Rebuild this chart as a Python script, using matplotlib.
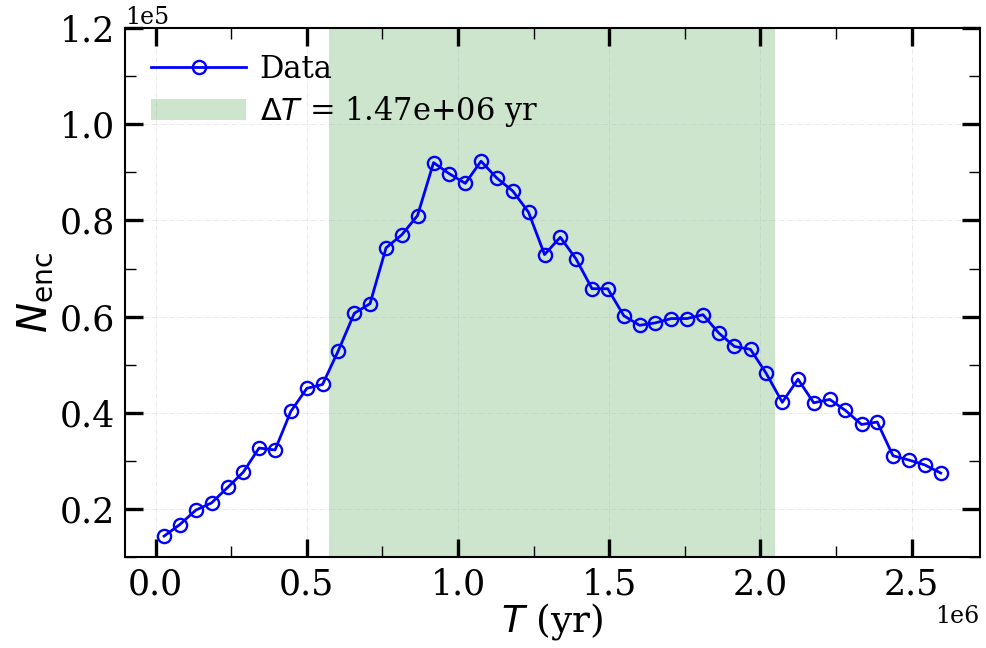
import numpy as np
from matplotlib import pyplot as plt
from matplotlib.ticker import AutoMinorLocator

# time bins (yr) and encounter counts
t_myr = [
    0.028, 0.080, 0.133, 0.185, 0.238, 0.290, 0.342, 0.395, 0.447, 0.500,
    0.552, 0.604, 0.657, 0.709, 0.762, 0.814, 0.866, 0.919, 0.971, 1.024,
    1.076, 1.128, 1.181, 1.233, 1.286, 1.338, 1.390, 1.443, 1.495, 1.548,
    1.600, 1.652, 1.705, 1.757, 1.810, 1.862, 1.914, 1.967, 2.019, 2.072,
    2.124, 2.176, 2.229, 2.281, 2.334, 2.386, 2.438, 2.491, 2.543, 2.596,
]
n_enc_1e5 = [
    0.144, 0.168, 0.198, 0.213, 0.245, 0.277, 0.327, 0.323, 0.403, 0.451,
    0.459, 0.529, 0.607, 0.627, 0.743, 0.770, 0.810, 0.920, 0.897, 0.877,
    0.923, 0.888, 0.861, 0.817, 0.729, 0.765, 0.720, 0.658, 0.658, 0.602,
    0.582, 0.587, 0.596, 0.596, 0.604, 0.566, 0.538, 0.532, 0.482, 0.422,
    0.470, 0.421, 0.428, 0.405, 0.376, 0.381, 0.311, 0.302, 0.292, 0.275,
]
span_start = 0.575e6
span_end = 2.047e6

t = np.array(t_myr) * 1e6
n_enc = np.array(n_enc_1e5) * 1e5

plt.rcParams["font.family"] = "DejaVu Serif"
plt.rcParams["mathtext.fontset"] = "dejavusans"

fig, ax = plt.subplots(figsize=(9.86, 6.48), dpi=100)
fig.patch.set_facecolor("white")
fig.subplots_adjust(left=0.127, right=0.9935, top=0.957, bottom=0.14)

ax.plot(t, n_enc, color="blue", linewidth=2, marker="o", markersize=9.5,
        markerfacecolor="none", markeredgewidth=1.7, label="Data")
ax.axvspan(span_start, span_end, color="green", alpha=0.2, linewidth=0,
           label=rf"$\Delta T$ = {span_end - span_start:.2e} yr")

ax.set_ylim(0.1e5, 1.2e5)
ax.ticklabel_format(style="sci", scilimits=(0, 0), axis="both")
ax.xaxis.set_minor_locator(AutoMinorLocator(2))
ax.yaxis.set_minor_locator(AutoMinorLocator(2))
ax.tick_params(which="major", direction="in", top=True, right=True,
               length=13, width=2.4, labelsize=25, pad=7)
ax.tick_params(which="minor", direction="in", top=True, right=True,
               length=8, width=1)
ax.xaxis.get_offset_text().set_fontsize(17)
ax.yaxis.get_offset_text().set_fontsize(17)
for spine in ax.spines.values():
    spine.set_linewidth(1.5)

ax.grid(True, which="major", linestyle="-.", linewidth=0.6, alpha=0.3)
ax.set_xlabel(r"$T$ (yr)", fontsize=27, labelpad=0)
ax.set_ylabel(r"$N_{\rm enc}$", fontsize=29, labelpad=4)
ax.legend(loc="upper left", frameon=False, fontsize=22, handlelength=3.1,
          borderaxespad=0.45, handletextpad=0.45, labelspacing=0.3)

plt.savefig("out.png", dpi=100)
plt.close(fig)
